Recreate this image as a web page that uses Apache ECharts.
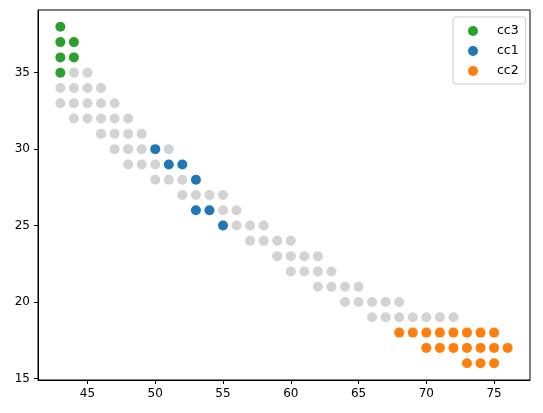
<!DOCTYPE html>
<html>
<head>
<meta charset="utf-8">
<script src="https://cdn.jsdelivr.net/npm/echarts@6/dist/echarts.min.js"></script>
<style>
  html, body { margin: 0; padding: 0; background: #fff; }
  #chart { width: 543px; height: 413px; }
</style>
</head>
<body>
<div id="chart"></div>
<script>
// 背景点 (未分组)
const otherX = [44, 45, 43, 44, 45, 46, 43, 44, 45, 46, 47, 44, 45, 46, 47, 48,
  46, 47, 48, 49, 47, 48, 49, 51, 48, 49, 50, 50, 51, 52, 52, 53, 54, 55,
  55, 56, 56, 57, 58, 57, 58, 59, 60, 59, 60, 61, 62, 60, 61, 62, 63,
  62, 63, 64, 65, 64, 65, 66, 67, 68, 66, 67, 68, 69, 70, 71, 72];
const otherY = [35, 35, 34, 34, 34, 34, 33, 33, 33, 33, 33, 32, 32, 32, 32, 32,
  31, 31, 31, 31, 30, 30, 30, 30, 29, 29, 29, 28, 28, 28, 27, 27, 27, 27,
  26, 26, 25, 25, 25, 24, 24, 24, 24, 23, 23, 23, 23, 22, 22, 22, 22,
  21, 21, 21, 21, 20, 20, 20, 20, 20, 19, 19, 19, 19, 19, 19, 19];

// 分组点
const cc3X = [43, 43, 44, 43, 44, 43];
const cc3Y = [38, 37, 37, 36, 36, 35];
const cc1X = [50, 51, 52, 53, 53, 54, 55];
const cc1Y = [30, 29, 29, 28, 26, 26, 25];
const cc2X = [68, 69, 70, 71, 72, 73, 74, 75, 70, 71, 72, 73, 74, 75, 76, 73, 74, 75];
const cc2Y = [18, 18, 18, 18, 18, 18, 18, 18, 17, 17, 17, 17, 17, 17, 17, 16, 16, 16];

const xTicks = [45, 50, 55, 60, 65, 70, 75];
const yTicks = [15, 20, 25, 30, 35];

const zip = (xs, ys) => xs.map((x, i) => [x, ys[i]]);

const font = 'DejaVu Sans';
const axisCommon = {
  type: 'value',
  scale: true,
  splitLine: { show: false },
  axisLine: { show: true, onZero: false, lineStyle: { color: '#000', width: 1 } },
  axisTick: { show: true, length: 4, lineStyle: { color: '#000' } }
};

const chart = echarts.init(document.getElementById('chart'));
chart.setOption({
  animation: false,
  backgroundColor: '#fff',
  grid: {
    left: 38, right: 13, top: 10, bottom: 33,
    show: true, borderColor: '#000', borderWidth: 1
  },
  xAxis: Object.assign({}, axisCommon, {
    min: 41.35, max: 77.65,
    axisTick: Object.assign({}, axisCommon.axisTick, { customValues: xTicks }),
    axisLabel: { customValues: xTicks, color: '#000', fontFamily: font, fontSize: 12, margin: 8 }
  }),
  yAxis: Object.assign({}, axisCommon, {
    min: 14.9, max: 39.1,
    axisTick: Object.assign({}, axisCommon.axisTick, { customValues: yTicks }),
    axisLabel: { customValues: yTicks, color: '#000', fontFamily: font, fontSize: 12, margin: 8 }
  }),
  legend: {
    data: ['cc3', 'cc1', 'cc2'],
    orient: 'vertical',
    left: 453, top: 17,
    icon: 'circle',
    itemWidth: 10, itemHeight: 10,
    itemGap: 6,
    padding: [7, 7, 6, 15],
    borderColor: '#ccc', borderWidth: 1, borderRadius: 3,
    backgroundColor: 'rgba(255,255,255,0.8)',
    textStyle: { fontFamily: font, fontSize: 12.5, color: '#000', lineHeight: 14, padding: [0, 0, 0, 14] }
  },
  series: [
    { name: 'other', type: 'scatter', symbolSize: 10, data: zip(otherX, otherY), itemStyle: { color: '#d3d3d3', opacity: 1 } },
    { name: 'cc3', type: 'scatter', symbolSize: 10, data: zip(cc3X, cc3Y), itemStyle: { color: '#2ca02c', opacity: 1 } },
    { name: 'cc1', type: 'scatter', symbolSize: 10, data: zip(cc1X, cc1Y), itemStyle: { color: '#1f77b4', opacity: 1 } },
    { name: 'cc2', type: 'scatter', symbolSize: 10, data: zip(cc2X, cc2Y), itemStyle: { color: '#ff7f0e', opacity: 1 } }
  ]
});

window.addEventListener('resize', () => chart.resize());
</script>
</body>
</html>
